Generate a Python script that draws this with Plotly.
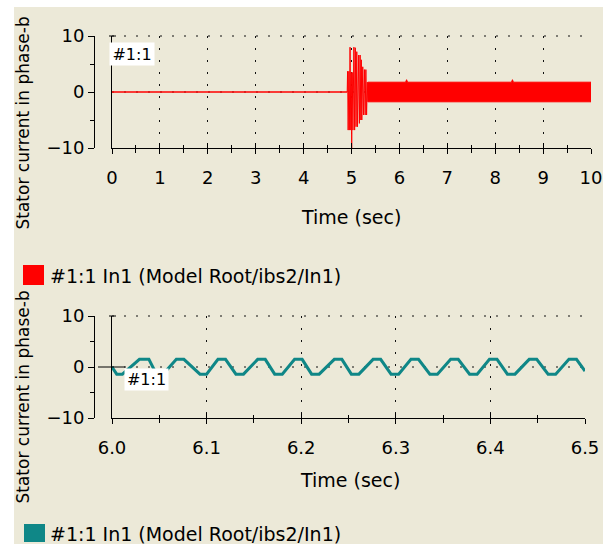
import plotly.graph_objects as go

# ---------------- data ----------------
# top panel: stator current, 0..10 s
top_flat_t = [0.0, 4.91]
top_flat_i = [0.0, 0.0]

top_trans_t = [4.910, 4.918, 4.930, 4.945, 4.955, 4.970, 4.985, 4.995, 5.004, 5.015,
               5.030, 5.050, 5.065, 5.080, 5.095, 5.110, 5.125, 5.150, 5.165, 5.180,
               5.195, 5.205, 5.215, 5.235, 5.250, 5.270, 5.285, 5.300, 5.315, 5.330, 5.340]
top_trans_i = [0.0, 3.7, -6.8, 3.7, -6.8, 8.0, -6.8, 3.5, -10.0, 3.5,
               -6.8, 8.0, -6.8, 7.9, -6.2, 7.2, -6.2, 6.6, -5.6, 6.6,
               -5.0, 5.75, -5.0, 4.5, -4.1, 4.0, -4.1, 4.0, -4.1, 1.75, -1.75]

# steady-state oscillation too dense to resolve: upper / lower envelope
top_upper_t = [5.34, 6.13, 6.15, 6.17, 8.34, 8.36, 8.38, 10.0]
top_upper_i = [1.75, 1.75, 2.2, 1.75, 1.75, 2.2, 1.75, 1.75]
top_lower_t = [5.34, 10.0]
top_lower_i = [-1.75, -1.75]

# bottom panel: zoom 6.0..6.5 s
zoom_t = [6.000, 6.005, 6.011, 6.029, 6.039, 6.047, 6.054, 6.068, 6.076, 6.093,
          6.100, 6.112, 6.120, 6.131, 6.139, 6.154, 6.162, 6.172, 6.180, 6.193,
          6.201, 6.211, 6.219, 6.235, 6.243, 6.253, 6.261, 6.276, 6.284, 6.295,
          6.303, 6.316, 6.324, 6.336, 6.344, 6.358, 6.366, 6.378, 6.386, 6.399,
          6.407, 6.418, 6.426, 6.441, 6.449, 6.461, 6.469, 6.483, 6.491, 6.500]
zoom_i = [0.0, -1.4, -1.4, 1.5, 1.5, -1.4, -1.4, 1.5, 1.5, -1.4,
          -1.4, 1.5, 1.5, -1.4, -1.4, 1.5, 1.5, -1.4, -1.4, 1.5,
          1.5, -1.4, -1.4, 1.5, 1.5, -1.4, -1.4, 1.5, 1.5, -1.4,
          -1.4, 1.5, 1.5, -1.4, -1.4, 1.5, 1.5, -1.4, -1.4, 1.5,
          1.5, -1.4, -1.4, 1.5, 1.5, -1.4, -1.4, 1.5, 1.5, -0.8]

top_xtick_vals = [0, 1, 2, 3, 4, 5, 6, 7, 8, 9, 10]
zoom_xtick_vals = [6.0, 6.1, 6.2, 6.3, 6.4, 6.5]
ytick_vals = [-10, 0, 10]
ygrid_vals = [0, 10]

y_title = "Stator current in phase-b"
x_title = "Time (sec)"
legend_text = "#1:1 In1 (Model Root/ibs2/In1)"
marker_label = "#1:1"

# ---------------- styling ----------------
W, H = 608, 544
FONT = "DejaVu Sans"
RED = "#ff0000"
TEAL = "#0f8787"
BEIGE = "#ECE9D8"
DOT = "2px,10px"


def px(x):
    return x / W


def py(y):
    return 1 - y / H


fig = go.Figure()

# top traces
fig.add_trace(go.Scatter(x=top_flat_t, y=top_flat_i, mode="lines",
                         line=dict(color=RED, width=1.5), xaxis="x", yaxis="y"))
fig.add_trace(go.Scatter(x=top_trans_t, y=top_trans_i, mode="lines",
                         line=dict(color=RED, width=1), xaxis="x", yaxis="y"))
fig.add_trace(go.Scatter(x=top_upper_t + top_lower_t[::-1],
                         y=top_upper_i + top_lower_i[::-1],
                         mode="lines", fill="toself", fillcolor=RED,
                         line=dict(color=RED, width=1), xaxis="x", yaxis="y"))
# bottom trace
fig.add_trace(go.Scatter(x=zoom_t, y=zoom_i, mode="lines",
                         line=dict(color=TEAL, width=3), xaxis="x2", yaxis="y2"))
# empty traces to host the overlay axes
fig.add_trace(go.Scatter(x=[], y=[], xaxis="x3", yaxis="y"))
fig.add_trace(go.Scatter(x=[], y=[], xaxis="x", yaxis="y3"))
fig.add_trace(go.Scatter(x=[], y=[], xaxis="x4", yaxis="y2"))
fig.add_trace(go.Scatter(x=[], y=[], xaxis="x2", yaxis="y4"))

top_xdom = [px(112), px(591)]
top_ydom = [py(148), py(36)]
bot_xdom = [px(112), px(585)]
bot_ydom = [py(418), py(316)]
spine = px(94)


def xmain(dom, rng, ticks, anchor, fmt=None):
    d = dict(domain=dom, range=rng, anchor=anchor, tickvals=ticks, automargin=False,
             ticks="outside", ticklen=5, tickcolor="black", tickwidth=1,
             showline=True, linecolor="black", linewidth=1,
             showgrid=True, gridcolor="#111111", gridwidth=1, griddash=DOT,
             zeroline=False, tickfont=dict(size=18, color="black"),
             ticklabelstandoff=8,
             minor=dict(dtick=(rng[1] - rng[0]) / (20 if rng[1] > 7 else 10),
                        ticks="outside", ticklen=3.5, tickcolor="black", showgrid=False))
    if fmt:
        d["tickformat"] = fmt
    return d


def xover(over, rng, ticks, anchor):
    return dict(overlaying=over, range=rng, anchor=anchor, side="bottom", automargin=False,
                tickvals=ticks, ticks="inside", ticklen=5, tickcolor="black",
                showticklabels=False, showgrid=False, showline=False, zeroline=False,
                minor=dict(dtick=(rng[1] - rng[0]) / (20 if rng[1] > 7 else 10),
                           ticks="inside", ticklen=3.5, tickcolor="black", showgrid=False))


def ymain(dom, anchor):
    return dict(domain=dom, range=[-10, 10], anchor=anchor, tickvals=ytick_vals,
                automargin=False,
                showticklabels=False, ticks="", showline=True, linecolor="black",
                linewidth=1, showgrid=False, zeroline=False)


def yspine(over):
    return dict(overlaying=over, anchor="free", position=spine, side="left",
                automargin=False,
                range=[-10, 10], tickvals=ytick_vals, ticks="outside", ticklen=6,
                tickcolor="black", showline=True, linecolor="black", linewidth=1,
                showgrid=False, zeroline=False,
                tickfont=dict(size=18, color="black"),
                minor=dict(dtick=5, ticks="outside", ticklen=4, tickcolor="black",
                           showgrid=False))


fig.update_layout(
    template="none",
    width=W, height=H, autosize=False,
    margin=dict(l=0, r=0, t=0, b=0, pad=0),
    paper_bgcolor="white", plot_bgcolor="rgba(0,0,0,0)",
    showlegend=False,
    font=dict(family=FONT, color="black"),
    xaxis=xmain(top_xdom, [0, 10], top_xtick_vals, "y"),
    yaxis=ymain(top_ydom, "x"),
    xaxis3=xover("x", [0, 10], top_xtick_vals, "y"),
    yaxis3=yspine("y"),
    xaxis2=xmain(bot_xdom, [6.0, 6.5], zoom_xtick_vals, "y2", ".1f"),
    yaxis2=ymain(bot_ydom, "x2"),
    xaxis4=xover("x2", [6.0, 6.5], zoom_xtick_vals, "y2"),
    yaxis4=yspine("y2"),
)

shapes = [
    # window background
    dict(type="rect", xref="paper", yref="paper", x0=px(14), x1=px(603), y0=0, y1=py(7),
         fillcolor=BEIGE, line=dict(width=0), layer="below"),
    # legend swatches
    dict(type="rect", xref="paper", yref="paper", x0=px(23), x1=px(44), y0=py(285), y1=py(265),
         fillcolor=RED, line=dict(width=0)),
    dict(type="rect", xref="paper", yref="paper", x0=px(24), x1=px(45), y0=py(542), y1=py(524),
         fillcolor=TEAL, line=dict(width=0)),
    # cursor cross-hair in the zoomed panel
    dict(type="line", xref="paper", yref="paper", x0=px(98), x1=px(125), y0=py(367), y1=py(367),
         line=dict(color="black", width=1)),
    # small cap on top of the x=0 line
    dict(type="line", xref="paper", yref="paper", x0=px(109), x1=px(116), y0=py(36), y1=py(36),
         line=dict(color="black", width=1)),
    dict(type="line", xref="paper", yref="paper", x0=px(109), x1=px(116), y0=py(316), y1=py(316),
         line=dict(color="black", width=1)),
]
# horizontal dotted grid lines
for (xa, ya, dom, ydom) in (("x", "y", top_xdom, top_ydom), ("x2", "y2", bot_xdom, bot_ydom)):
    for v in ygrid_vals:
        frac = (v + 10) / 20.0
        ypos = ydom[0] + frac * (ydom[1] - ydom[0])
        shapes.append(dict(type="line", xref="paper", yref="paper",
                           x0=dom[0], x1=dom[1], y0=ypos, y1=ypos,
                           line=dict(color="#111111", width=1, dash=DOT), layer="below"))
fig.update_layout(shapes=shapes)

ann = []
for yc in (123, 397):
    ann.append(dict(text=y_title, x=px(22.5), y=py(yc), xref="paper", yref="paper",
                    textangle=-90, showarrow=False, xanchor="center", yanchor="middle",
                    font=dict(size=17, color="black")))
for xc, yc in ((351, 216.5), (350, 480)):
    ann.append(dict(text=x_title, x=px(xc), y=py(yc), xref="paper", yref="paper",
                    showarrow=False, xanchor="center", yanchor="middle",
                    font=dict(size=19, color="black")))
for yc in (276, 534):
    ann.append(dict(text=legend_text, x=px(48), y=py(yc), xref="paper", yref="paper",
                    showarrow=False, xanchor="left", yanchor="middle",
                    font=dict(size=19, color="black")))
for xc, yc, w, h in ((132, 53.5, 44, 22), (146.5, 379.5, 43, 21)):
    ann.append(dict(text=marker_label, x=px(xc), y=py(yc), xref="paper", yref="paper",
                    showarrow=False, xanchor="center", yanchor="middle",
                    bgcolor="white", borderpad=0, width=w, height=h,
                    font=dict(size=16, color="black")))
fig.update_layout(annotations=ann)

fig.write_html("out.html", config={"displayModeBar": False})
